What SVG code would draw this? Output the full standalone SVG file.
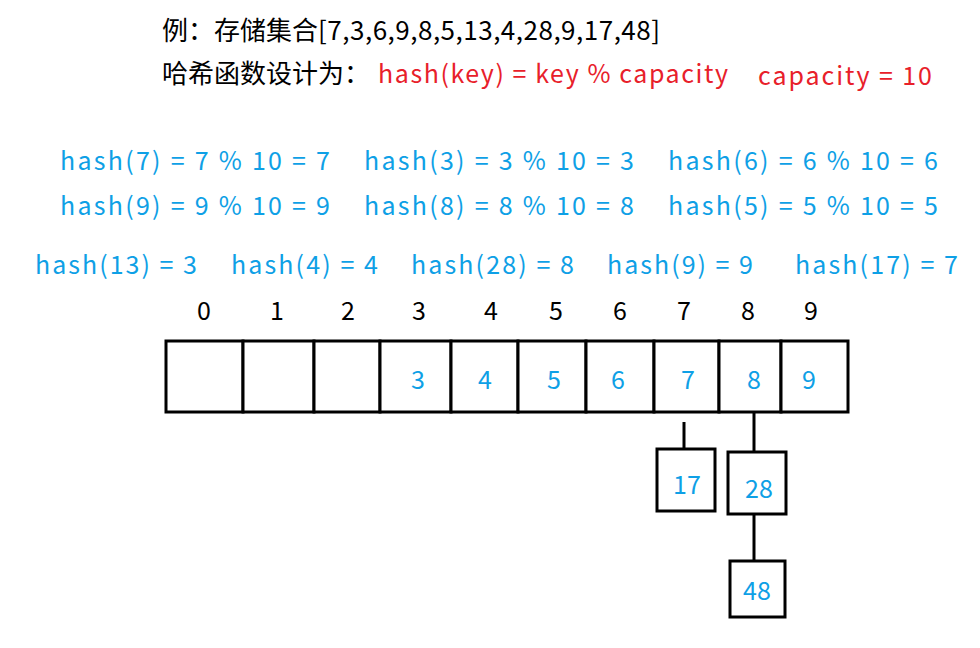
<svg xmlns="http://www.w3.org/2000/svg" width="980" height="648" viewBox="0 0 980 648">
<style>
text{font-family:"Noto Sans CJK SC","Noto Sans",sans-serif;font-size:25px}
.k{fill:#000}.r{fill:#e8202a}.b{fill:#0ea0e6}
.c{text-anchor:middle}
rect{fill:#fff;stroke:#000;stroke-width:3}
line{stroke:#000;stroke-width:3}
</style>
<rect x="0" y="0" width="980" height="648" style="stroke:none"/>
<g id="title">
<text class="k" x="162" y="40" style="font-size:26px">例：存储集合<tspan textLength="342" lengthAdjust="spacing">[7,3,6,9,8,5,13,4,28,9,17,48]</tspan></text>
<text class="k" x="162" y="83" style="font-size:26px">哈希函数设计为：</text>
<text class="r" x="378" y="83" textLength="350" lengthAdjust="spacing">hash(key) = key % capacity</text>
<text class="r" x="758" y="85" textLength="174" lengthAdjust="spacing">capacity = 10</text>
</g>
<g id="hashes">
<text class="b" x="60" y="170" textLength="270" lengthAdjust="spacing">hash(7) = 7 % 10 = 7</text>
<text class="b" x="364" y="170" textLength="270" lengthAdjust="spacing">hash(3) = 3 % 10 = 3</text>
<text class="b" x="668" y="170" textLength="270" lengthAdjust="spacing">hash(6) = 6 % 10 = 6</text>
<text class="b" x="60" y="215" textLength="270" lengthAdjust="spacing">hash(9) = 9 % 10 = 9</text>
<text class="b" x="364" y="215" textLength="270" lengthAdjust="spacing">hash(8) = 8 % 10 = 8</text>
<text class="b" x="668" y="215" textLength="270" lengthAdjust="spacing">hash(5) = 5 % 10 = 5</text>
<text class="b" x="35" y="274" textLength="162" lengthAdjust="spacing">hash(13) = 3</text>
<text class="b" x="231" y="274" textLength="147" lengthAdjust="spacing">hash(4) = 4</text>
<text class="b" x="411" y="274" textLength="163" lengthAdjust="spacing">hash(28) = 8</text>
<text class="b" x="607" y="274" textLength="146" lengthAdjust="spacing">hash(9) = 9</text>
<text class="b" x="795" y="274" textLength="163" lengthAdjust="spacing">hash(17) = 7</text>
</g>
<g id="indices">
<text class="k c" x="204" y="320">0</text>
<text class="k c" x="277" y="320">1</text>
<text class="k c" x="348" y="320">2</text>
<text class="k c" x="419" y="320">3</text>
<text class="k c" x="491" y="320">4</text>
<text class="k c" x="556" y="320">5</text>
<text class="k c" x="620" y="320">6</text>
<text class="k c" x="684" y="320">7</text>
<text class="k c" x="748" y="320">8</text>
<text class="k c" x="811" y="320">9</text>
</g>
<g id="array">
<rect x="166" y="341" width="77" height="71"/>
<rect x="243" y="341" width="71" height="71"/>
<rect x="314" y="341" width="66" height="71"/>
<rect x="380" y="341" width="71" height="71"/>
<rect x="451" y="341" width="67" height="71"/>
<rect x="518" y="341" width="68" height="71"/>
<rect x="586" y="341" width="68" height="71"/>
<rect x="654" y="341" width="65" height="71"/>
<rect x="719" y="341" width="62" height="71"/>
<rect x="781" y="341" width="67" height="71"/>
<text class="b c" x="418" y="389">3</text>
<text class="b c" x="485" y="389">4</text>
<text class="b c" x="554" y="389">5</text>
<text class="b c" x="618" y="389">6</text>
<text class="b c" x="688" y="389">7</text>
<text class="b c" x="754" y="389">8</text>
<text class="b c" x="809" y="389">9</text>
</g>
<g id="connectors">
<line x1="684" y1="422" x2="684" y2="449"/>
<line x1="754" y1="412" x2="754" y2="452"/>
<line x1="754" y1="514" x2="754" y2="561"/>
</g>
<g id="n17"><rect x="657" y="449" width="58" height="62"/><text class="b c" x="687" y="494">17</text></g>
<g id="n28"><rect x="728" y="452" width="58" height="62"/><text class="b c" x="759" y="498">28</text></g>
<g id="n48"><rect x="730" y="561" width="55" height="56"/><text class="b c" x="757" y="600">48</text></g>
</svg>
